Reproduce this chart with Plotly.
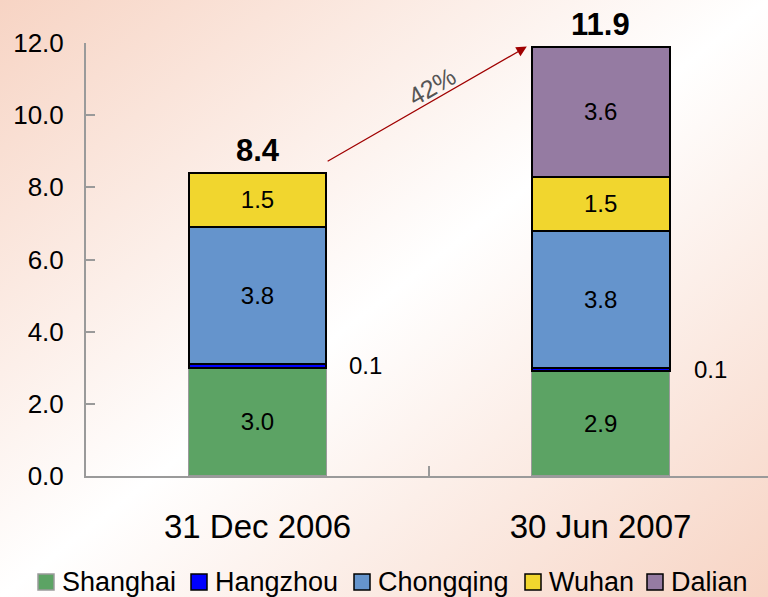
import base64
import plotly.graph_objects as go

categories = ["31 Dec 2006", "30 Jun 2007"]
shanghai = [3.0, 2.9]
hangzhou = [0.1, 0.1]
chongqing = [3.8, 3.8]
wuhan = [1.5, 1.5]
dalian = [0.0, 3.6]
totals = [8.4, 11.9]
growth_label = "42%"

series = [
    ("Shanghai", shanghai, "#5ca364", "#9a9a9a", 1.5),
    ("Hangzhou", hangzhou, "#0000ff", "#000000", 2),
    ("Chongqing", chongqing, "#6594cc", "#000000", 2),
    ("Wuhan", wuhan, "#f1d62e", "#000000", 2),
    ("Dalian", dalian, "#957ba2", "#000000", 2),
]

FONT = "Liberation Sans"
fig = go.Figure()
for name, vals, col, lc, lw in series:
    txt = [f"{v:.1f}" if (v > 0 and name != "Hangzhou") else "" for v in vals]
    fig.add_trace(go.Bar(
        name=name, x=categories, y=vals, showlegend=False,
        marker=dict(color=col, line=dict(color=lc, width=lw)),
        text=txt, textposition="inside", insidetextanchor="middle",
        textfont=dict(size=24, color="#000000", family=FONT),
        textangle=0,
    ))

L, T, B = 86, 43, 121
W, H = 768, 597
pw, ph = W - L, H - T - B


def px2paper_x(px):
    return (px - L) / pw


def px2paper_y(py):
    return (H - B - py) / ph


annotations = []
shapes = []
for c, t in zip(categories, totals):
    annotations.append(dict(x=c, y=t, xref="x", yref="y", text=f"<b>{t:.1f}</b>",
                            showarrow=False, yanchor="bottom", yshift=3,
                            font=dict(size=31, color="#000000", family=FONT)))
for i, c in enumerate(categories):
    annotations.append(dict(x=c, y=shanghai[i] + hangzhou[i] / 2, xref="x", yref="y",
                            text=f"{hangzhou[i]:.1f}", showarrow=False,
                            xshift=108 + (2 if i else 0), yshift=0,
                            font=dict(size=24, color="#000000", family=FONT)))

half = 0.2
tail_x, tail_y = 0 + half, totals[0] + 0.3
head_x, head_y = 1 - half - 0.015, totals[1]
annotations.append(dict(x=head_x, y=head_y, xref="x", yref="y", ax=tail_x, ay=tail_y,
                        axref="x", ayref="y", text="", showarrow=True,
                        arrowhead=2, arrowsize=1.6, arrowwidth=1.3, arrowcolor="#a00000",
                        standoff=0, startstandoff=0))
annotations.append(dict(x=(tail_x + head_x) / 2, y=(tail_y + head_y) / 2, xref="x", yref="y",
                        text=growth_label, showarrow=False, textangle=-30,
                        xshift=6, yshift=18,
                        font=dict(size=25, color="#555555", family=FONT)))

# manual legend (swatch left x positions in pixels)
legend_x = [38, 191, 354, 525, 647]
legend_y = 582
sq = 16
for (name, vals, col, lc, lw), lx in zip(series, legend_x):
    shapes.append(dict(type="rect", xref="paper", yref="paper",
                       x0=px2paper_x(lx), x1=px2paper_x(lx + sq),
                       y0=px2paper_y(legend_y + sq / 2), y1=px2paper_y(legend_y - sq / 2),
                       fillcolor=col, line=dict(color=lc, width=1.5)))
    annotations.append(dict(x=px2paper_x(lx + sq + 6), y=px2paper_y(legend_y), xref="paper",
                            yref="paper", text=name, showarrow=False, xanchor="left",
                            yanchor="middle",
                            font=dict(size=27, color="#000000", family=FONT)))

svg = ('<svg xmlns="http://www.w3.org/2000/svg" width="768" height="597" preserveAspectRatio="none">'
       '<defs><linearGradient id="g" x1="0" y1="0" x2="1" y2="1">'
       '<stop offset="0" stop-color="#f7d4c4"/><stop offset="0.5" stop-color="#ffffff"/>'
       '<stop offset="1" stop-color="#f7d4c4"/></linearGradient></defs>'
       '<rect width="768" height="597" fill="url(#g)"/></svg>')
src = "data:image/svg+xml;base64," + base64.b64encode(svg.encode()).decode()

fig.update_layout(
    width=W, height=H, barmode="stack", bargap=0.598,
    margin=dict(l=L, r=0, t=T, b=B, autoexpand=False),
    paper_bgcolor="#ffffff", plot_bgcolor="rgba(0,0,0,0)",
    font=dict(family=FONT, color="#000000"),
    images=[dict(source=src, xref="paper", yref="paper", x=-L / pw, y=1 + T / ph,
                 sizex=W / pw, sizey=H / ph, sizing="stretch", xanchor="left",
                 yanchor="top", layer="below")],
    annotations=annotations,
    shapes=shapes,
    showlegend=False,
    xaxis=dict(range=[-0.5, 1.488], showline=True, linecolor="#9a9a9a", linewidth=2,
               ticks="inside", tickson="boundaries", ticklen=10, tickcolor="#9a9a9a",
               tickwidth=2, tickfont=dict(size=33, family=FONT, color="#000000"),
               ticklabelstandoff=20, showgrid=False, zeroline=False),
    yaxis=dict(range=[0, 12], dtick=2, tickformat=".1f", showline=True,
               linecolor="#9a9a9a", linewidth=2, ticks="inside", ticklen=9,
               tickcolor="#9a9a9a", tickwidth=2, showgrid=False, zeroline=False,
               tickfont=dict(size=26, family=FONT, color="#000000"),
               ticklabelstandoff=15),
)

fig.write_html("out.html")
